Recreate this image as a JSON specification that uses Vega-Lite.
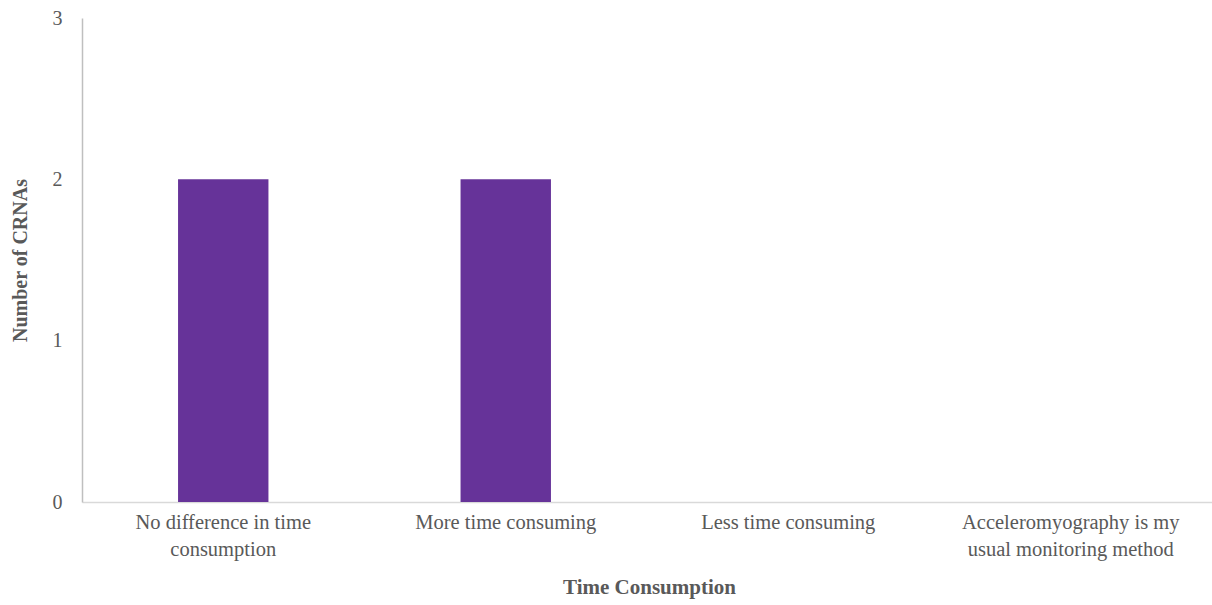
{
  "$schema": "https://vega.github.io/schema/vega-lite/v6.json",
  "width": 1130,
  "height": 484,
  "autosize": {"type": "none"},
  "padding": {"left": 82, "top": 18, "right": 0, "bottom": 103},
  "background": "white",
  "config": {
    "view": {"stroke": null},
    "font": "Liberation Serif"
  },
  "data": {
    "values": [
      {"category": "No difference in time consumption", "count": 2},
      {"category": "More time consuming", "count": 2},
      {"category": "Less time consuming", "count": 0},
      {"category": "Acceleromyography is my usual monitoring method", "count": 0}
    ]
  },
  "mark": {"type": "bar", "color": "#663399"},
  "encoding": {
    "x": {
      "field": "category",
      "type": "nominal",
      "sort": null,
      "scale": {"paddingInner": 0.68, "paddingOuter": 0.34},
      "axis": {
        "title": "Time Consumption",
        "titleFont": "Liberation Serif",
        "titleFontSize": 21,
        "titleFontWeight": "bold",
        "titleColor": "#595959",
        "titlePadding": 17,
        "titleX": 567,
        "labelAngle": 0,
        "labelFont": "Liberation Serif",
        "labelFontSize": 20.5,
        "labelColor": "#595959",
        "labelPadding": 10,
        "labelLineHeight": 27,
        "labelLimit": 0,
        "labelExpr": "datum.label == 'No difference in time consumption' ? ['No difference in time', 'consumption'] : (indexof(datum.label, 'usual') > 0 ? ['Acceleromyography is my', 'usual monitoring method'] : datum.label)",
        "ticks": false,
        "domainColor": "#d9d9d9",
        "domainWidth": 1.5,
        "grid": false
      }
    },
    "y": {
      "field": "count",
      "type": "quantitative",
      "scale": {"domain": [0, 3]},
      "axis": {
        "title": "Number of CRNAs",
        "titleFont": "Liberation Serif",
        "titleFontSize": 20,
        "titleFontWeight": "bold",
        "titleColor": "#595959",
        "titlePadding": 22,
        "values": [0, 1, 2, 3],
        "format": "d",
        "labelFont": "Liberation Serif",
        "labelFontSize": 20,
        "labelColor": "#595959",
        "labelPadding": 20,
        "ticks": false,
        "domainColor": "#bfbfbf",
        "domainWidth": 1.5,
        "grid": false
      }
    }
  }
}
